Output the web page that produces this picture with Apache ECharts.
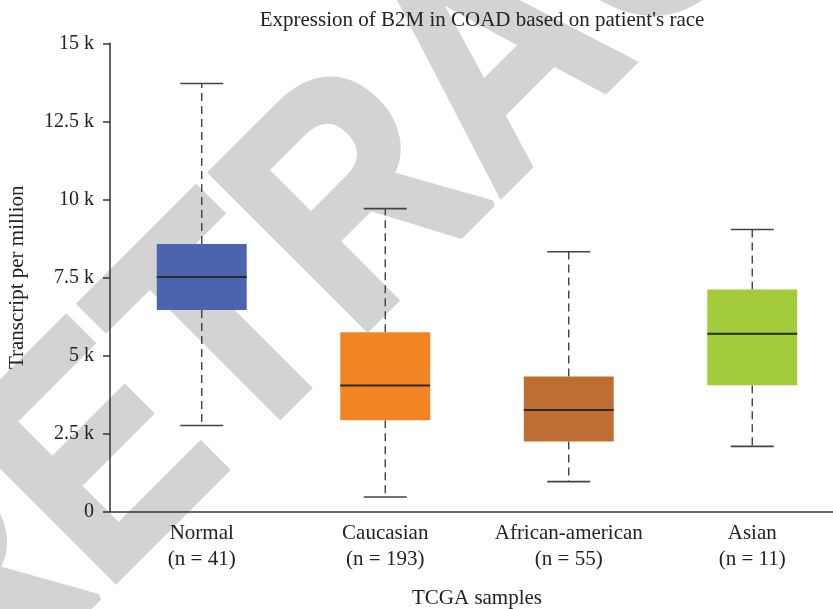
<!DOCTYPE html>
<html>
<head>
<meta charset="utf-8">
<script src="https://cdn.jsdelivr.net/npm/echarts@6/dist/echarts.min.js"></script>
<style>
  html, body { margin: 0; padding: 0; background: #fff; }
  #chart { width: 833px; height: 609px; }
</style>
</head>
<body>
<div id="chart"></div>
<script>
const groups = ['Normal', 'Caucasian', 'African-american', 'Asian']
const sampleCounts = [41, 193, 55, 11]
const mins = [2750, 460, 950, 2080]
const q1s = [6450, 2920, 2240, 4040]
const medians = [7510, 4030, 3250, 5690]
const q3s = [8570, 5740, 4320, 7110]
const maxs = [13710, 9700, 8320, 9030]
const yTicks = [0, 2500, 5000, 7500, 10000, 12500, 15000]

const boxColors = ['#4a64ae', '#f28522', '#be6e33', '#a1cb38']
const serif = '"Liberation Serif", "DejaVu Serif", serif'

const chart = echarts.init(document.getElementById('chart'))

const boxData = groups.map((_, i) => [i, mins[i], q1s[i], medians[i], q3s[i], maxs[i]])

function renderBox(params, api) {
  const i = api.value(0)
  const band = api.size([1, 0])[0]
  const boxHalf = band * 0.245
  const capHalf = band * 0.117
  const [cx, yMin] = api.coord([i, api.value(1)])
  const yQ1 = api.coord([i, api.value(2)])[1]
  const yMed = api.coord([i, api.value(3)])[1]
  const yQ3 = api.coord([i, api.value(4)])[1]
  const yMax = api.coord([i, api.value(5)])[1]
  const whisker = { stroke: '#333', lineWidth: 1.3, lineDash: [8, 5] }
  const cap = { stroke: '#444', lineWidth: 1.6 }
  return {
    type: 'group',
    children: [
      { type: 'line', shape: { x1: cx, y1: yQ3, x2: cx, y2: yMax }, style: whisker },
      { type: 'line', shape: { x1: cx, y1: yQ1, x2: cx, y2: yMin }, style: whisker },
      { type: 'line', shape: { x1: cx - capHalf, y1: yMax, x2: cx + capHalf, y2: yMax }, style: cap },
      { type: 'line', shape: { x1: cx - capHalf, y1: yMin, x2: cx + capHalf, y2: yMin }, style: cap },
      {
        type: 'rect',
        shape: { x: cx - boxHalf, y: yQ3, width: boxHalf * 2, height: yQ1 - yQ3 },
        style: { fill: boxColors[i] },
      },
      { type: 'line', shape: { x1: cx - boxHalf, y1: yMed, x2: cx + boxHalf, y2: yMed }, style: { stroke: '#2a2a2a', lineWidth: 2 } },
    ],
  }
}

chart.setOption({
  animation: false,
  title: {
    text: "Expression of B2M in COAD based on patient's race",
    left: 477,
    textAlign: 'center',
    top: 5,
    textStyle: { fontFamily: serif, fontSize: 21, fontWeight: 'normal', color: '#222' },
  },
  // diagonal RETRACTED stamp behind the plot
  graphic: [
    {
      type: 'text',
      x: 505,
      y: 66,
      rotation: 45 * Math.PI / 180,
      scaleX: 0.87,
      z: -10,
      silent: true,
      style: {
        text: 'RETRACTED',
        fill: '#d3d3d3',
        stroke: '#d3d3d3',
        lineWidth: 7,
        font: 'bold 320px "Liberation Sans", Arial, sans-serif',
        textAlign: 'center',
        textVerticalAlign: 'middle',
      },
    },
  ],
  grid: { left: 110, top: 43.3, bottom: 97.7, right: -11, outerBoundsMode: 'none', containLabel: false },
  xAxis: {
    type: 'category',
    data: groups.map((g, i) => g + '\n(n = ' + sampleCounts[i] + ')'),
    name: 'TCGA samples',
    nameLocation: 'middle',
    nameGap: 77,
    nameTextStyle: { fontFamily: serif, fontSize: 21, color: '#222' },
    axisLine: { lineStyle: { color: '#333', width: 1.5 } },
    axisTick: { show: false },
    axisLabel: { interval: 0, fontFamily: serif, fontSize: 21, color: '#222', lineHeight: 26, margin: 9 },
    splitLine: { show: false },
  },
  yAxis: {
    type: 'value',
    min: yTicks[0],
    max: yTicks[yTicks.length - 1],
    interval: yTicks[1] - yTicks[0],
    name: 'Transcript per million',
    nameLocation: 'middle',
    nameGap: 82,
    nameTextStyle: { fontFamily: serif, fontSize: 21, color: '#222' },
    axisLine: { show: true, lineStyle: { color: '#333', width: 1.5 } },
    axisTick: { show: true, length: 7, lineStyle: { color: '#333', width: 1.5 } },
    axisLabel: {
      fontFamily: serif,
      fontSize: 20,
      color: '#222',
      margin: 16,
      formatter: v => (v === 0 ? '0' : v / 1000 + ' k'),
    },
    splitLine: { show: false },
  },
  series: [
    {
      type: 'custom',
      renderItem: renderBox,
      encode: { x: 0, y: [1, 2, 3, 4, 5] },
      data: boxData,
      z: 5,
    },
  ],
})
</script>
</body>
</html>
